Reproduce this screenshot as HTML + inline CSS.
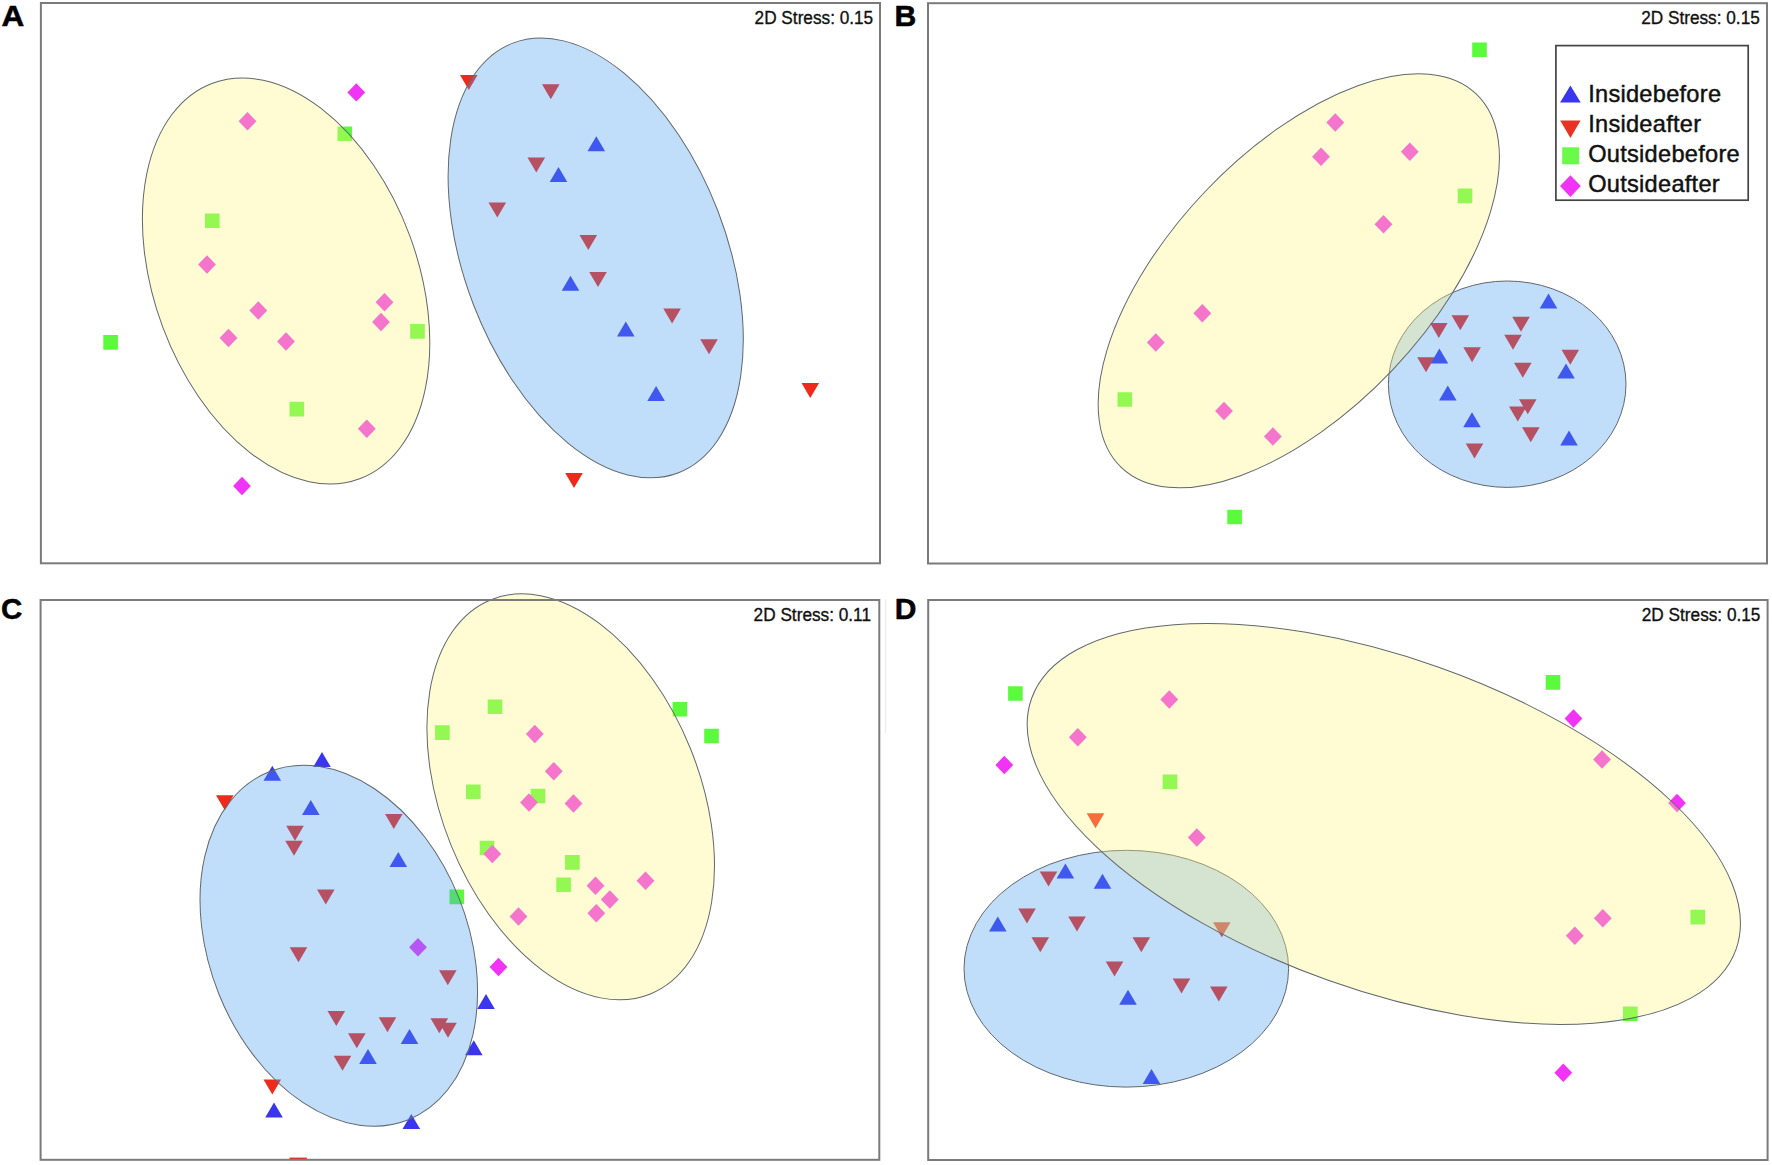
<!DOCTYPE html>
<html lang="en">
<head>
<meta charset="utf-8">
<title>nMDS ordination panels A-D</title>
<style>
html,body{margin:0;padding:0;background:#fff}
body{width:1772px;height:1165px;overflow:hidden}
svg{display:block}
text{font-family:"Liberation Sans",Arial,Helvetica,sans-serif;fill:#111}
.lbl{font-weight:bold;font-size:30px;fill:#000;stroke:#000;stroke-width:.5px}
.st{font-size:18.8px;stroke:#111;stroke-width:.35px}
.lg{font-size:23.6px;letter-spacing:.27px;stroke:#111;stroke-width:.45px}
</style>
</head>
<body>
<svg width="1772" height="1165" viewBox="0 0 1772 1165">
<rect width="1772" height="1165" fill="#fff"/>
<line x1="885.5" y1="599.5" x2="885.5" y2="733" stroke="#ececec" stroke-width="1.2"/>
<g id="panel-A">
<path fill="#5cfa3c" d="M337.5 126.5h14.6v14.6h-14.6ZM205 213.5h14.6v14.6h-14.6ZM103.3 335.1h14.6v14.6h-14.6ZM410.2 324.1h14.6v14.6h-14.6ZM289.5 401.8h14.6v14.6h-14.6Z"/>
<path fill="#f033f5" d="M356.3 83.2L365.2 92.4L356.3 101.6L347.4 92.4ZM247.5 112.1L256.4 121.3L247.5 130.5L238.6 121.3ZM207 255.3L215.9 264.5L207 273.7L198.1 264.5ZM258.3 301.3L267.2 310.5L258.3 319.7L249.4 310.5ZM228.5 328.8L237.4 338L228.5 347.2L219.6 338ZM286 332.3L294.9 341.5L286 350.7L277.1 341.5ZM384.5 293.1L393.4 302.3L384.5 311.5L375.6 302.3ZM381 312.8L389.9 322L381 331.2L372.1 322ZM366.8 419.6L375.7 428.8L366.8 438L357.9 428.8ZM242 476.8L250.9 486L242 495.2L233.1 486Z"/>
<path fill="#f02a1a" d="M460 75L477.6 75L468.8 90ZM542 84.3L559.6 84.3L550.8 99.3ZM527.5 157.5L545.1 157.5L536.3 172.5ZM488.5 202.5L506.1 202.5L497.3 217.5ZM579.5 235L597.1 235L588.3 250ZM589.2 272L606.8 272L598 287ZM663.3 308.5L680.9 308.5L672.1 323.5ZM700.2 339.3L717.8 339.3L709 354.3ZM801.5 383L819.1 383L810.3 398ZM565.2 473L582.8 473L574 488Z"/>
<path fill="#3a36f0" d="M596.3 136.3L605.1 151.3L587.5 151.3ZM558.5 167L567.3 182L549.7 182ZM570.5 275.8L579.3 290.8L561.7 290.8ZM625.8 321.5L634.6 336.5L617 336.5ZM656.1 386L664.9 401L647.3 401Z"/>
<ellipse cx="595.7" cy="257.9" rx="230.2" ry="130.9" fill="rgb(70,155,240)" fill-opacity="0.34" stroke="#62676d" stroke-width="1" transform="rotate(68.9 595.7 257.9)"/>
<ellipse cx="286.1" cy="281" rx="211" ry="131.7" fill="rgb(255,243,126)" fill-opacity="0.34" stroke="#62676d" stroke-width="1" transform="rotate(69.6 286.1 281)"/>
<rect x="40.9" y="3" width="839.1" height="560.3" fill="none" stroke="#7b7b7b" stroke-width="2"/>
</g>
<g id="panel-B">
<path fill="#5cfa3c" d="M1472.2 42.5h14.6v14.6h-14.6ZM1457.7 188.6h14.6v14.6h-14.6ZM1117.5 392.2h14.6v14.6h-14.6ZM1227.3 509.7h14.6v14.6h-14.6Z"/>
<path fill="#f033f5" d="M1321 147.6L1329.9 156.8L1321 166L1312.1 156.8ZM1335.3 113.3L1344.2 122.5L1335.3 131.7L1326.4 122.5ZM1409.8 142.6L1418.7 151.8L1409.8 161L1400.9 151.8ZM1383.5 215.1L1392.4 224.3L1383.5 233.5L1374.6 224.3ZM1202.3 304.1L1211.2 313.3L1202.3 322.5L1193.4 313.3ZM1155.8 333.3L1164.7 342.5L1155.8 351.7L1146.9 342.5ZM1224 401.8L1232.9 411L1224 420.2L1215.1 411ZM1272.8 427.3L1281.7 436.5L1272.8 445.7L1263.9 436.5Z"/>
<path fill="#f02a1a" d="M1451.5 315.3L1469.1 315.3L1460.3 330.3ZM1430 323L1447.6 323L1438.8 338ZM1512.2 316.8L1529.8 316.8L1521 331.8ZM1504.2 334.8L1521.8 334.8L1513 349.8ZM1463.3 347.3L1480.9 347.3L1472.1 362.3ZM1417.2 357.3L1434.8 357.3L1426 372.3ZM1561.5 349.8L1579.1 349.8L1570.3 364.8ZM1514 362.8L1531.6 362.8L1522.8 377.8ZM1519 399.3L1536.6 399.3L1527.8 414.3ZM1509 406.5L1526.6 406.5L1517.8 421.5ZM1522 427.3L1539.6 427.3L1530.8 442.3ZM1465.7 443.5L1483.3 443.5L1474.5 458.5Z"/>
<path fill="#3a36f0" d="M1548.5 293.5L1557.3 308.5L1539.7 308.5ZM1439.4 348.5L1448.2 363.5L1430.6 363.5ZM1566 363.5L1574.8 378.5L1557.2 378.5ZM1447.8 385.5L1456.6 400.5L1439 400.5ZM1472 412.3L1480.8 427.3L1463.2 427.3ZM1569 430.5L1577.8 445.5L1560.2 445.5Z"/>
<ellipse cx="1507.2" cy="384.2" rx="118.8" ry="103.2" fill="rgb(70,155,240)" fill-opacity="0.34" stroke="#62676d" stroke-width="1"/>
<ellipse cx="1298.8" cy="280.8" rx="257.6" ry="129.4" fill="rgb(255,243,126)" fill-opacity="0.34" stroke="#62676d" stroke-width="1" transform="rotate(-46.5 1298.8 280.8)"/>
<rect x="928" y="3.2" width="839" height="560.3" fill="none" stroke="#7b7b7b" stroke-width="2"/>
</g>
<g id="panel-C">
<path fill="#5cfa3c" d="M487.7 699.5h14.6v14.6h-14.6ZM435.1 725.3h14.6v14.6h-14.6ZM672.6 702h14.6v14.6h-14.6ZM704.2 728.7h14.6v14.6h-14.6ZM466 784.5h14.6v14.6h-14.6ZM530.7 788.7h14.6v14.6h-14.6ZM479.7 840.7h14.6v14.6h-14.6ZM565.1 855.1h14.6v14.6h-14.6ZM556.3 877.5h14.6v14.6h-14.6ZM449.5 889.6h14.6v14.6h-14.6Z"/>
<path fill="#f033f5" d="M534.8 724.8L543.7 734L534.8 743.2L525.9 734ZM553.8 762.1L562.7 771.3L553.8 780.5L544.9 771.3ZM529 793.3L537.9 802.5L529 811.7L520.1 802.5ZM573.5 794.3L582.4 803.5L573.5 812.7L564.6 803.5ZM492.3 844.8L501.2 854L492.3 863.2L483.4 854ZM595.5 876.6L604.4 885.8L595.5 895L586.6 885.8ZM645.5 871.6L654.4 880.8L645.5 890L636.6 880.8ZM609.8 890.3L618.7 899.5L609.8 908.7L600.9 899.5ZM596.3 904.1L605.2 913.3L596.3 922.5L587.4 913.3ZM518.5 907.3L527.4 916.5L518.5 925.7L509.6 916.5ZM498.5 957.8L507.4 967L498.5 976.2L489.6 967ZM418 938.1L426.9 947.3L418 956.5L409.1 947.3Z"/>
<path fill="#f02a1a" d="M216 795.3L233.6 795.3L224.8 810.3ZM385 814L402.6 814L393.8 829ZM286.2 825.8L303.8 825.8L295 840.8ZM285.2 840.8L302.8 840.8L294 855.8ZM317 889.5L334.6 889.5L325.8 904.5ZM289.7 947.3L307.3 947.3L298.5 962.3ZM439 970.3L456.6 970.3L447.8 985.3ZM327.5 1011L345.1 1011L336.3 1026ZM378.7 1017.3L396.3 1017.3L387.5 1032.3ZM430.5 1018.3L448.1 1018.3L439.3 1033.3ZM439.2 1022.8L456.8 1022.8L448 1037.8ZM348 1033.3L365.6 1033.3L356.8 1048.3ZM333.7 1055.8L351.3 1055.8L342.5 1070.8ZM263.5 1079.6L281.1 1079.6L272.3 1094.6Z"/>
<path fill="#3a36f0" d="M322 752L330.8 767L313.2 767ZM272.3 765.8L281.1 780.8L263.5 780.8ZM310.8 800L319.6 815L302 815ZM398.3 852L407.1 867L389.5 867ZM409.5 1029L418.3 1044L400.7 1044ZM368 1049L376.8 1064L359.2 1064ZM274 1102.5L282.8 1117.5L265.2 1117.5ZM411.3 1114L420.1 1129L402.5 1129ZM486 994L494.8 1009L477.2 1009ZM473.8 1040.3L482.6 1055.3L465 1055.3Z"/>
<rect x="289.5" y="1157.6" width="17.4" height="2.4" fill="#f02a1a"/>
<ellipse cx="338.8" cy="945.7" rx="187.4" ry="129.3" fill="rgb(70,155,240)" fill-opacity="0.34" stroke="#62676d" stroke-width="1" transform="rotate(68.2 338.8 945.7)"/>
<ellipse cx="570.7" cy="796.8" rx="212.6" ry="129.1" fill="rgb(255,243,126)" fill-opacity="0.34" stroke="#62676d" stroke-width="1" transform="rotate(68 570.7 796.8)"/>
<rect x="40.6" y="600" width="838.7" height="559.8" fill="none" stroke="#7b7b7b" stroke-width="2"/>
</g>
<g id="panel-D">
<path fill="#5cfa3c" d="M1008.1 686.2h14.6v14.6h-14.6ZM1162.7 774.5h14.6v14.6h-14.6ZM1545.7 675.1h14.6v14.6h-14.6ZM1690.5 909.8h14.6v14.6h-14.6ZM1623 1006.5h14.6v14.6h-14.6Z"/>
<path fill="#f033f5" d="M1169.3 690.3L1178.2 699.5L1169.3 708.7L1160.4 699.5ZM1077.8 728.1L1086.7 737.3L1077.8 746.5L1068.9 737.3ZM1004.3 755.8L1013.2 765L1004.3 774.2L995.4 765ZM1196.8 828.3L1205.7 837.5L1196.8 846.7L1187.9 837.5ZM1573.5 709.3L1582.4 718.5L1573.5 727.7L1564.6 718.5ZM1602 750.3L1610.9 759.5L1602 768.7L1593.1 759.5ZM1677 793.8L1685.9 803L1677 812.2L1668.1 803ZM1602.8 909.1L1611.7 918.3L1602.8 927.5L1593.9 918.3ZM1574.8 926.6L1583.7 935.8L1574.8 945L1565.9 935.8ZM1563.3 1063.6L1572.2 1072.8L1563.3 1082L1554.4 1072.8Z"/>
<path fill="#f02a1a" d="M1086.7 813.3L1104.3 813.3L1095.5 828.3ZM1039.7 871.5L1057.3 871.5L1048.5 886.5ZM1018.2 908.5L1035.8 908.5L1027 923.5ZM1068.2 916.5L1085.8 916.5L1077 931.5ZM1031.5 937.3L1049.1 937.3L1040.3 952.3ZM1132.5 937.3L1150.1 937.3L1141.3 952.3ZM1213 922.3L1230.6 922.3L1221.8 937.3ZM1105.7 961.5L1123.3 961.5L1114.5 976.5ZM1172.7 978.5L1190.3 978.5L1181.5 993.5ZM1210 986.5L1227.6 986.5L1218.8 1001.5Z"/>
<path fill="#3a36f0" d="M1065.4 863.4L1074.2 878.4L1056.6 878.4ZM1102.5 873.7L1111.3 888.7L1093.7 888.7ZM997.8 916.5L1006.6 931.5L989 931.5ZM1128 989.8L1136.8 1004.8L1119.2 1004.8ZM1151.5 1069L1160.3 1084L1142.7 1084Z"/>
<ellipse cx="1126.3" cy="968.7" rx="162.3" ry="118.4" fill="rgb(70,155,240)" fill-opacity="0.34" stroke="#62676d" stroke-width="1"/>
<ellipse cx="1383.8" cy="823.9" rx="373.9" ry="166" fill="rgb(255,243,126)" fill-opacity="0.34" stroke="#62676d" stroke-width="1" transform="rotate(19.6 1383.8 823.9)"/>
<rect x="928.2" y="600" width="839.4" height="560" fill="none" stroke="#7b7b7b" stroke-width="2"/>
</g>
<text class="lbl" x="1.6" y="25.7" textLength="22.8" lengthAdjust="spacingAndGlyphs">A</text>
<text class="lbl" x="894.6" y="25.7" textLength="21.8" lengthAdjust="spacingAndGlyphs">B</text>
<text class="lbl" x="0.9" y="619.4" textLength="21.3" lengthAdjust="spacingAndGlyphs">C</text>
<text class="lbl" x="894.7" y="618.9" textLength="21.7" lengthAdjust="spacingAndGlyphs">D</text>
<text class="st" x="754.6" y="23.7" textLength="118.6" lengthAdjust="spacingAndGlyphs">2D Stress: 0.15</text>
<text class="st" x="1641.2" y="23.7" textLength="118.6" lengthAdjust="spacingAndGlyphs">2D Stress: 0.15</text>
<text class="st" x="753.6" y="620.8" textLength="117.4" lengthAdjust="spacingAndGlyphs">2D Stress: 0.11</text>
<text class="st" x="1641.8" y="620.8" textLength="118.6" lengthAdjust="spacingAndGlyphs">2D Stress: 0.15</text>
<g id="legend">
<rect x="1555.9" y="45.6" width="192.3" height="154.6" fill="#fff" stroke="#444" stroke-width="1.7"/>
<path fill="#3a36f0" d="M1570.4 85.5L1580.7 102.5L1560.1 102.5Z"/>
<path fill="#e83324" d="M1560.2 120.6L1580.6 120.6L1570.4 137.9Z"/>
<path fill="#6bfa4a" d="M1562.2 147.3h17v17h-17Z"/>
<path fill="#f033f5" d="M1570.4 175.3L1580.8 186.1L1570.4 196.9L1560 186.1Z"/>
<text class="lg" x="1588.2" y="102.4">Insidebefore</text>
<text class="lg" x="1588.2" y="132.4">Insideafter</text>
<text class="lg" x="1588.2" y="162.4">Outsidebefore</text>
<text class="lg" x="1588.2" y="192.4">Outsideafter</text>
</g>
</svg>
</body>
</html>
